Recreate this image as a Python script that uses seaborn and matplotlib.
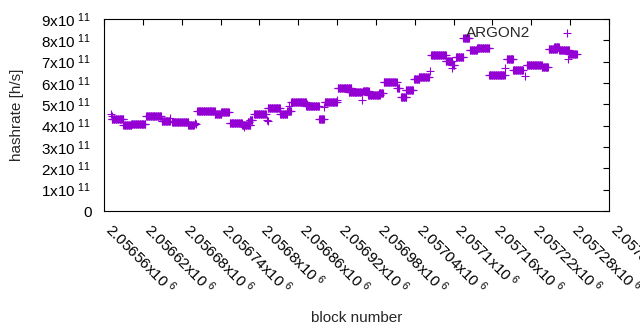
import numpy as np
import pandas as pd
import matplotlib
matplotlib.use("Agg")
import matplotlib.pyplot as plt
import seaborn as sns

# runs of consecutive blocks that share one hashrate value
run_first = [2056571, 2056572, 2056572, 2056590, 2056602, 2056625, 2056649, 2056662,
             2056665, 2056690, 2056700, 2056702, 2056704, 2056731, 2056741, 2056754,
             2056773, 2056777, 2056782, 2056785, 2056792, 2056812, 2056813, 2056813,
             2056832, 2056843, 2056846, 2056849, 2056874, 2056872, 2056892, 2056900,
             2056901, 2056920, 2056921, 2056938, 2056958, 2056960, 2056968, 2056985,
             2056992, 2057013, 2057019, 2057026, 2057039, 2057046, 2057064, 2057065,
             2057088, 2057098, 2057098, 2057104, 2057115, 2057125, 2057136, 2057155,
             2057179, 2057182, 2057192, 2057210, 2057213, 2057236, 2057247, 2057255,
             2057263, 2057277, 2057278]
run_last = [2056571, 2056572, 2056590, 2056602, 2056624, 2056648, 2056662, 2056662,
            2056690, 2056699, 2056700, 2056702, 2056731, 2056741, 2056753, 2056773,
            2056786, 2056777, 2056784, 2056789, 2056810, 2056812, 2056813, 2056832,
            2056843, 2056849, 2056846, 2056872, 2056874, 2056892, 2056900, 2056900,
            2056920, 2056920, 2056942, 2056958, 2056958, 2056969, 2056986, 2056991,
            2057012, 2057016, 2057027, 2057037, 2057047, 2057062, 2057064, 2057088,
            2057098, 2057098, 2057101, 2057115, 2057124, 2057136, 2057155, 2057179,
            2057179, 2057192, 2057207, 2057210, 2057236, 2057246, 2057259, 2057263,
            2057278, 2057277, 2057290]
run_rate = [4.53e11, 4.45e11, 4.30e11, 4.02e11, 4.06e11, 4.47e11, 4.20e11, 4.36e11,
            4.16e11, 4.02e11, 4.11e11, 4.08e11, 4.67e11, 4.53e11, 4.63e11, 4.11e11,
            4.05e11, 3.95e11, 4.18e11, 4.28e11, 4.53e11, 4.25e11, 4.20e11, 4.81e11,
            4.55e11, 4.70e11, 4.90e11, 5.10e11, 5.00e11, 4.91e11, 4.30e11, 4.89e11,
            5.12e11, 5.22e11, 5.75e11, 5.56e11, 5.20e11, 5.64e11, 5.45e11, 5.55e11,
            6.06e11, 5.75e11, 5.36e11, 5.67e11, 6.20e11, 6.30e11, 6.58e11, 7.30e11,
            7.02e11, 6.69e11, 6.86e11, 7.23e11, 8.09e11, 7.53e11, 7.62e11, 6.38e11,
            6.69e11, 7.11e11, 6.62e11, 6.33e11, 6.84e11, 6.74e11, 7.59e11, 7.69e11,
            7.53e11, 7.11e11, 7.35e11]

xtick_blocks = [2056560, 2056620, 2056680, 2056740, 2056800, 2056860, 2056920,
                2056980, 2057040, 2057100, 2057160, 2057220, 2057280, 2057340]
ytick_rates = [0, 1e11, 2e11, 3e11, 4e11, 5e11, 6e11, 7e11, 8e11, 9e11]

blocks, rates = [], []
for a, b, r in zip(run_first, run_last, run_rate):
    for blk in range(a, b + 1):
        blocks.append(blk)
        rates.append(r)
df = pd.DataFrame({"block": blocks, "hashrate": rates})

sns.set_theme(style="white")
plt.rcParams["font.family"] = ["Liberation Sans", "DejaVu Sans"]
plt.rcParams["mathtext.fontset"] = "custom"
plt.rcParams["mathtext.rm"] = "Liberation Sans"

fig = plt.figure(figsize=(6.4, 3.3), dpi=100)
ax = fig.add_axes([0.1625, 0.3606, 0.789, 0.5818])

sns.scatterplot(data=df, x="block", y="hashrate", marker="+", s=34,
                color="#9400d3", linewidth=0.8, label="ARGON2", ax=ax)

ax.set_xlim(xtick_blocks[0], xtick_blocks[-1])
ax.set_ylim(0, 9e11)
ax.set_xticks(xtick_blocks)
ax.set_xticklabels([f"$\\mathregular{{{b / 1e6:g}x10^{{\\ 6}}}}$" for b in xtick_blocks],
                   rotation=-45, ha="left", va="baseline", rotation_mode="anchor")
ax.set_yticks(ytick_rates)
ax.set_yticklabels(["0"] + [f"$\\mathregular{{{v / 1e11:g}x10^{{\\ 11}}}}$" for v in ytick_rates[1:]])

ax.tick_params(direction="in", length=4, width=0.8, colors="black", labelsize=11,
               top=True, right=True)
ax.tick_params(axis="y", pad=9)
ax.tick_params(axis="x", pad=14)
for sp in ax.spines.values():
    sp.set_color("black")
    sp.set_linewidth(0.8)

ax.set_xlabel("block number", fontsize=11)
ax.set_ylabel("hashrate [h/s]", fontsize=11)
ax.xaxis.set_label_coords(0.5, -0.52)
ax.yaxis.set_label_coords(-0.158, 0.5)

ax.legend(loc="upper right", bbox_to_anchor=(0.9465, 0.965), markerfirst=False,
          frameon=False, borderpad=0, borderaxespad=0, handlelength=2,
          handletextpad=1.4, fontsize=11)

fig.savefig("out.png", dpi=100)
